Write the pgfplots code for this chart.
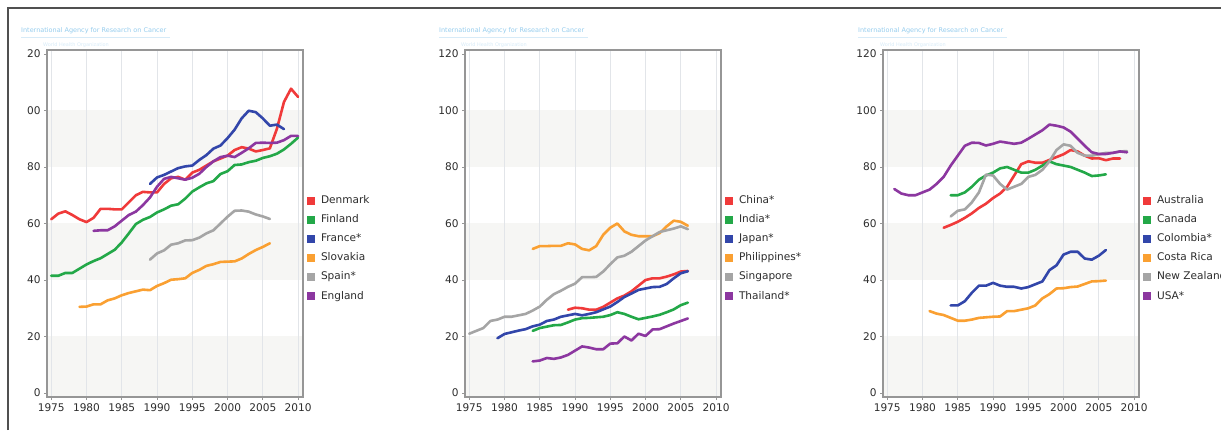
\documentclass[border=0pt]{standalone}
\usepackage{fontspec}
\setmainfont{DejaVu Sans}
\usepackage{pgfplots}
\pgfplotsset{compat=1.18}
\definecolor{cRed}{RGB}{240,58,58}
\definecolor{cGreen}{RGB}{35,168,72}
\definecolor{cBlue}{RGB}{50,70,170}
\definecolor{cOrange}{RGB}{250,160,50}
\definecolor{cGray}{RGB}{165,165,165}
\definecolor{cPurple}{RGB}{140,55,160}
\definecolor{bandC}{RGB}{246,246,244}
\definecolor{gridC}{RGB}{226,229,233}
\definecolor{frameC}{RGB}{150,150,150}
\definecolor{tickC}{RGB}{45,45,45}
\definecolor{hdrC}{RGB}{150,205,238}
\definecolor{hdrL}{RGB}{215,235,248}
\definecolor{outerC}{RGB}{80,80,80}
\pgfplotsset{
 legend image code/.code={\fill[#1,draw=none] (0bp,-4bp) rectangle (8bp,4bp);},
 panel/.style={
  scale only axis, width=256bp, height=347bp, anchor=south west,
  xmin=1974.4, xmax=2010.7, ymin=-1.4, ymax=121.4,
  xtick={1975,1980,...,2010}, ytick={0,20,...,120},
  xtick pos=left, ytick pos=left, tick align=outside,
  major tick length=3bp, tick style={color=frameC, line width=0.8bp},
  axis line style={color=frameC, line width=1.6bp},
  xmajorgrids, grid style={color=gridC, line width=0.8bp},
  /pgf/number format/assume math mode=true,
  /pgf/number format/1000 sep={},
  ticklabel style={font=\fontsize{10.6}{12}\selectfont, text=tickC},
  legend cell align=left,
  legend style={at={(1,0.428)}, anchor=west, draw=none, fill=none, inner sep=0pt, outer sep=0pt,
    font=\fontsize{10.6}{12}\selectfont, text=tickC, row sep=9.5bp, column sep=6bp,
    nodes={inner sep=0pt, text height=7.6bp, text depth=2bp}, xshift=4bp},
  every axis plot/.append style={line width=2.6bp, line join=round, line cap=round, no marks},
 },
}
\newcommand{\bands}[1]{%
 \fill[bandC] (#1,33.04) rectangle ++(256,60.51);
 \fill[bandC] (#1,150.1) rectangle ++(256,56.55);
 \fill[bandC] (#1,263.2) rectangle ++(256,56.55);}
\newcommand{\header}[1]{%
 \node[anchor=west, font=\fontsize{6.5}{7}\selectfont, text=hdrC, inner sep=0pt] at (#1,399) {International Agency for Research on Cancer};
 \draw[hdrL, line width=0.6bp] (#1,392.5) -- ++(149,0);
 \node[anchor=west, font=\fontsize{5}{6}\selectfont, text=hdrL, inner sep=0pt] at ({#1+22},385) {World Health Organization};}
\begin{document}
\begin{tikzpicture}[x=1bp,y=1bp]
\useasboundingbox (0,0) rectangle (1221,430);
\clip (0,0) rectangle (1221,430);
\fill[white] (0,0) rectangle (1221,430);
\draw[outerC, line width=1.5bp] (8,0) -- (8,422) -- (1225,422);
\header{21}
\header{439}
\header{858}
\bands{47}
\bands{465}
\bands{883}
% Panel 1
\begin{axis}[panel, at={(47bp,33bp)}, yticklabels={0,20,40,60,80,00,20}]
\addplot[cRed] coordinates {(1975,61.5)(1976,63.5)(1977,64.3)(1978,63)(1979,61.5)(1980,60.5)(1981,62)(1982,65.2)(1983,65.2)(1984,65)(1985,65)(1986,67.5)(1987,70)(1988,71.2)(1989,71)(1990,71)(1991,74)(1992,76)(1993,76.5)(1994,75.5)(1995,78)(1996,79)(1997,80.5)(1998,82)(1999,83)(2000,84)(2001,86)(2002,87)(2003,86.5)(2004,85.5)(2005,86)(2006,86.6)(2007,93.5)(2008,103)(2009,107.7)(2010,104.8)};
\addlegendentry{Denmark}
\addplot[cGreen] coordinates {(1975,41.5)(1976,41.5)(1977,42.5)(1978,42.5)(1979,44)(1980,45.5)(1981,46.7)(1982,47.7)(1983,49.2)(1984,50.7)(1985,53.3)(1986,56.5)(1987,59.8)(1988,61.3)(1989,62.3)(1990,63.9)(1991,65)(1992,66.3)(1993,66.8)(1994,68.8)(1995,71.3)(1996,72.8)(1997,74.2)(1998,75)(1999,77.5)(2000,78.5)(2001,80.7)(2002,80.9)(2003,81.7)(2004,82.2)(2005,83.2)(2006,83.8)(2007,84.7)(2008,86.2)(2009,88.2)(2010,90.4)};
\addlegendentry{Finland}
\addplot[cBlue] coordinates {(1989,74)(1990,76.3)(1991,77.2)(1992,78.4)(1993,79.6)(1994,80.2)(1995,80.5)(1996,82.5)(1997,84.2)(1998,86.5)(1999,87.6)(2000,90.2)(2001,93.2)(2002,97.2)(2003,99.9)(2004,99.4)(2005,97.2)(2006,94.6)(2007,95)(2008,93.4)};
\addlegendentry{France*}
\addplot[cOrange] coordinates {(1979,30.5)(1980,30.6)(1981,31.4)(1982,31.4)(1983,32.8)(1984,33.5)(1985,34.6)(1986,35.4)(1987,36)(1988,36.6)(1989,36.4)(1990,37.9)(1991,38.9)(1992,40.1)(1993,40.3)(1994,40.6)(1995,42.5)(1996,43.6)(1997,45)(1998,45.6)(1999,46.4)(2000,46.5)(2001,46.6)(2002,47.6)(2003,49.2)(2004,50.6)(2005,51.7)(2006,53)};
\addlegendentry{Slovakia}
\addplot[cGray] coordinates {(1989,47.2)(1990,49.4)(1991,50.5)(1992,52.5)(1993,53)(1994,54)(1995,54.1)(1996,55)(1997,56.5)(1998,57.6)(1999,60)(2000,62.4)(2001,64.5)(2002,64.6)(2003,64.2)(2004,63.2)(2005,62.5)(2006,61.6)};
\addlegendentry{Spain*}
\addplot[cPurple] coordinates {(1981,57.4)(1982,57.6)(1983,57.6)(1984,59)(1985,61)(1986,63)(1987,64.2)(1988,66.5)(1989,69.2)(1990,73)(1991,75.8)(1992,76.5)(1993,76)(1994,75.5)(1995,76.2)(1996,77.6)(1997,80)(1998,82)(1999,83.5)(2000,84)(2001,83.5)(2002,85)(2003,86.6)(2004,88.5)(2005,88.6)(2006,88.5)(2007,88.6)(2008,89.5)(2009,91)(2010,91)};
\addlegendentry{England}
\end{axis}
% Panel 2
\begin{axis}[panel, at={(465bp,33bp)}]
\addplot[cRed] coordinates {(1989,29.5)(1990,30.2)(1991,30)(1992,29.5)(1993,29.5)(1994,30.5)(1995,32)(1996,33.5)(1997,34.5)(1998,36)(1999,38)(2000,40)(2001,40.6)(2002,40.6)(2003,41.2)(2004,42)(2005,43)(2006,43.2)};
\addlegendentry{China*}
\addplot[cGreen] coordinates {(1984,22)(1985,23)(1986,23.5)(1987,24)(1988,24.1)(1989,25)(1990,26)(1991,26.5)(1992,26.6)(1993,26.8)(1994,27)(1995,27.6)(1996,28.6)(1997,28)(1998,27)(1999,26.1)(2000,26.6)(2001,27.1)(2002,27.7)(2003,28.6)(2004,29.6)(2005,31.1)(2006,32)};
\addlegendentry{India*}
\addplot[cBlue] coordinates {(1979,19.4)(1980,20.9)(1981,21.5)(1982,22.1)(1983,22.6)(1984,23.6)(1985,24.2)(1986,25.5)(1987,26)(1988,27)(1989,27.5)(1990,28)(1991,27.5)(1992,28)(1993,28.6)(1994,29.6)(1995,30.6)(1996,32.2)(1997,34)(1998,35.2)(1999,36.5)(2000,37)(2001,37.5)(2002,37.6)(2003,38.6)(2004,40.6)(2005,42.4)(2006,43.1)};
\addlegendentry{Japan*}
\addplot[cOrange] coordinates {(1984,51)(1985,52)(1986,52)(1987,52.1)(1988,52.1)(1989,53)(1990,52.6)(1991,51)(1992,50.5)(1993,52)(1994,56)(1995,58.5)(1996,60)(1997,57.2)(1998,56)(1999,55.5)(2000,55.5)(2001,55.5)(2002,56.6)(2003,59)(2004,61)(2005,60.6)(2006,59.2)};
\addlegendentry{Philippines*}
\addplot[cGray] coordinates {(1975,21)(1976,22)(1977,23)(1978,25.5)(1979,26)(1980,27)(1981,27)(1982,27.5)(1983,28)(1984,29.2)(1985,30.6)(1986,33)(1987,35)(1988,36.2)(1989,37.6)(1990,38.7)(1991,41)(1992,41)(1993,41.1)(1994,43)(1995,45.6)(1996,48)(1997,48.6)(1998,50)(1999,52)(2000,54)(2001,55.5)(2002,57)(2003,57.6)(2004,58.2)(2005,59)(2006,58)};
\addlegendentry{Singapore}
\addplot[cPurple] coordinates {(1984,11.2)(1985,11.5)(1986,12.4)(1987,12.1)(1988,12.6)(1989,13.5)(1990,15)(1991,16.5)(1992,16.1)(1993,15.5)(1994,15.5)(1995,17.5)(1996,17.6)(1997,20)(1998,18.6)(1999,21)(2000,20.2)(2001,22.5)(2002,22.6)(2003,23.6)(2004,24.6)(2005,25.5)(2006,26.4)};
\addlegendentry{Thailand*}
\end{axis}
% Panel 3
\begin{axis}[panel, at={(883bp,33bp)}]
\addplot[cRed] coordinates {(1983,58.5)(1984,59.5)(1985,60.6)(1986,62)(1987,63.6)(1988,65.5)(1989,67)(1990,69)(1991,70.6)(1992,73)(1993,77)(1994,81)(1995,82)(1996,81.5)(1997,81.5)(1998,82.5)(1999,83.5)(2000,84.5)(2001,86)(2002,85.5)(2003,84)(2004,83)(2005,83.1)(2006,82.4)(2007,83)(2008,83)};
\addlegendentry{Australia}
\addplot[cGreen] coordinates {(1984,70)(1985,70)(1986,71)(1987,73)(1988,75.5)(1989,77)(1990,78)(1991,79.5)(1992,80)(1993,79)(1994,78)(1995,78)(1996,79)(1997,80.5)(1998,82)(1999,81)(2000,80.5)(2001,80)(2002,79)(2003,78)(2004,76.8)(2005,77)(2006,77.4)};
\addlegendentry{Canada}
\addplot[cBlue] coordinates {(1984,31)(1985,31)(1986,32.5)(1987,35.5)(1988,38)(1989,38)(1990,39)(1991,38)(1992,37.6)(1993,37.6)(1994,37)(1995,37.5)(1996,38.5)(1997,39.5)(1998,43.5)(1999,45.2)(2000,49)(2001,50)(2002,50)(2003,47.6)(2004,47.2)(2005,48.6)(2006,50.6)};
\addlegendentry{Colombia*}
\addplot[cOrange] coordinates {(1981,29)(1982,28.1)(1983,27.6)(1984,26.6)(1985,25.6)(1986,25.6)(1987,26)(1988,26.6)(1989,26.8)(1990,27)(1991,27.1)(1992,29)(1993,29)(1994,29.5)(1995,30)(1996,31)(1997,33.5)(1998,35)(1999,37)(2000,37.1)(2001,37.5)(2002,37.7)(2003,38.6)(2004,39.5)(2005,39.6)(2006,39.8)};
\addlegendentry{Costa Rica}
\addplot[cGray] coordinates {(1984,62.5)(1985,64.5)(1986,65)(1987,67.5)(1988,71)(1989,77.3)(1990,77)(1991,74)(1992,72)(1993,73)(1994,74)(1995,76.5)(1996,77.2)(1997,79)(1998,82)(1999,86)(2000,88)(2001,87.5)(2002,85)(2003,84)(2004,84)(2005,84.5)(2006,85)(2007,85)(2008,85.5)(2009,85.6)};
\addlegendentry{New Zealand}
\addplot[cPurple] coordinates {(1976,72.2)(1977,70.6)(1978,70)(1979,70)(1980,71)(1981,72)(1982,74)(1983,76.5)(1984,80.5)(1985,84)(1986,87.5)(1987,88.6)(1988,88.5)(1989,87.6)(1990,88.2)(1991,89)(1992,88.6)(1993,88.2)(1994,88.6)(1995,90)(1996,91.5)(1997,93)(1998,95)(1999,94.6)(2000,94)(2001,92.5)(2002,90)(2003,87.5)(2004,85.2)(2005,84.6)(2006,84.6)(2007,85)(2008,85.5)(2009,85.2)};
\addlegendentry{USA*}
\end{axis}
\end{tikzpicture}
\end{document}
